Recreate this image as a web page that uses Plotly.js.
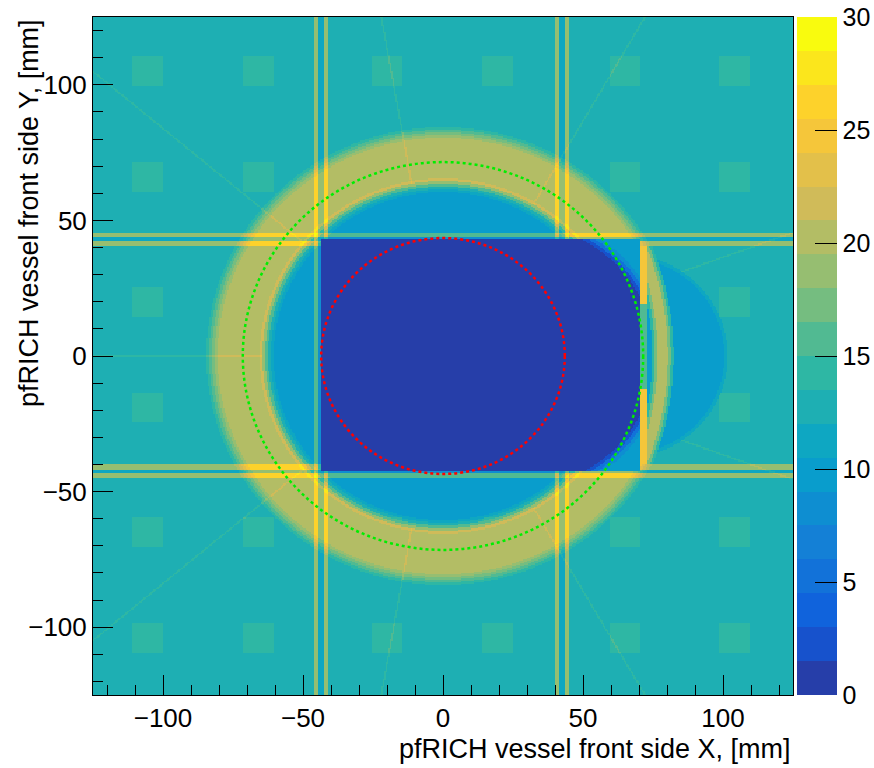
<!DOCTYPE html>
<html><head><meta charset="utf-8">
<script src="https://cdn.plot.ly/plotly-3.0.1.min.js"></script>
<style>html,body{margin:0;padding:0;background:#fff}#chart{width:874px;height:768px}</style>
</head><body><div id="chart"></div>
<script>
// ---------- chart values ----------
const X_TITLE = 'pfRICH vessel front side X, [mm]';
const Y_TITLE = 'pfRICH vessel front side Y, [mm]';
const AXIS_RANGE = [-125, 125];
const BIN_WIDTH = 0.5;
const Z_RANGE = [0, 30];
const N_LEVELS = 20;
const COLORBAR_TICKS = [0, 5, 10, 15, 20, 25, 30];

const BACKGROUND_LEVEL = 12.75;
// radial profile of the ring around (0,0): band boundaries (mm) and the level in each band
const RING_EDGES  = [60.5, 61.5, 62.5, 63.5, 64.5, 65.5, 80.5, 81.5, 82.5, 83.5, 84.5];
const RING_LEVELS = [9.75, 11.25, 12.75, 15.75, 18.75, 21.75, 20.25, 18.75, 17.25, 15.75, 14.25, 12.75];

// support bars (mm intervals) and the gaps between them
const V_BARS = [[-46.2, -44.4], [-42.7, -40.9], [39.8, 41.6], [43.4, 45.2]];
const V_GAPS = [[-44.4, -42.7], [41.6, 43.4]];
const H_BARS = [[44.1, 45.7], [40.4, 42.3], [-41.8, -40.0], [-44.9, -43.2]];
const H_GAPS = [[42.3, 44.1], [-43.2, -41.8]];
const BAR_STEP = 6.0;
const GAP_STEP = -1.5;

// sensor pads (lighter squares)
const PAD_X = [-105.5, -66, -20, 19.5, 65, 104];
const PAD_Y = [105, 66, 20, -19, -65, -104];
const PAD_HALF = 5.5;
const PAD_STEP = 1.5;

// faint radial seams
const RAY_ANGLES = [20, 60, 100, 140, 180, 220, 260, 300, 340];
const RAY_START_R = 64.5;
const RAY_STEP = 1.5;

// central window
const RECT_X = [-43.3, 70.6];
const RECT_Y = [-42.5, 43.2];
const DARK_CENTER_X = 27;
const DARK_RADIUS = 48.5;
const DARK_EDGE_D = [0, 1.2, 2.4, 3.6];
const DARK_EDGE_LEVELS = [0.75, 2.25, 5.25, 8.25, 9.75];

// region right of the window
const RIGHT_Y = [-40.0, 40.4];
const RIGHT_BAR_X = 73.1;
const RIGHT_BAR_Y_BREAKS = [-12, 19];
const RIGHT_BAR_LEVELS = [24.75, 15.75, 24.75];
const RIGHT_DISK = {cx: 64, r: 36.5, level: 9.75, edge: 1.2, edgeLevel: 11.25};
const RIGHT_ARC = {cx: -29, r: 107.5};
const RIGHT_ARC_D = [1.8, 2.8, 3.8];
const RIGHT_ARC_LEVELS = [20.25, 17.25, 14.25];

// dotted reference circles
const CIRCLE_R = [71.5, 43.5];
const CIRCLE_COLORS = ['#00ee00', '#ff0000'];

// ROOT kBird palette stops
const BIRD_STOPS = [0.0, 0.125, 0.25, 0.375, 0.5, 0.625, 0.75, 0.875, 1.0];
const BIRD_R = [0.2082, 0.0592, 0.0780, 0.0232, 0.1802, 0.5301, 0.8186, 0.9956, 0.9764];
const BIRD_G = [0.1664, 0.3599, 0.5041, 0.6419, 0.7178, 0.7492, 0.7328, 0.7862, 0.9832];
const BIRD_B = [0.5293, 0.8684, 0.8385, 0.7914, 0.6425, 0.4662, 0.3499, 0.1968, 0.0539];

// ---------- build ----------
function bird(f) {
  let k = 0;
  while (k < BIRD_STOPS.length - 2 && f > BIRD_STOPS[k + 1]) k++;
  const t = (f - BIRD_STOPS[k]) / (BIRD_STOPS[k + 1] - BIRD_STOPS[k]);
  const c = a => Math.round(255 * (a[k] + t * (a[k + 1] - a[k])));
  return `rgb(${c(BIRD_R)},${c(BIRD_G)},${c(BIRD_B)})`;
}
const colorscale = [];
for (let i = 0; i < N_LEVELS; i++) {
  const col = bird(Math.min(1, (i + 0.99) / N_LEVELS));
  colorscale.push([i / N_LEVELS, col]);
  colorscale.push([(i + 1) / N_LEVELS, col]);
}
const inAny = (v, list) => list.some(p => v >= p[0] && v < p[1]);
const stepLookup = (v, edges, levels) => { let i = 0; while (i < edges.length && v >= edges[i]) i++; return levels[i]; };
const onPad = (x, y) => PAD_X.some(px => Math.abs(x - px) <= PAD_HALF) && PAD_Y.some(py => Math.abs(y - py) <= PAD_HALF);
const rayDirs = RAY_ANGLES.map(a => [Math.cos(a * Math.PI / 180), Math.sin(a * Math.PI / 180)]);
const onRay = (x, y) => rayDirs.some(d => (x * d[0] + y * d[1]) > 0 && Math.abs(-x * d[1] + y * d[0]) < 0.3);

const n = Math.round((AXIS_RANGE[1] - AXIS_RANGE[0]) / BIN_WIDTH);
const centers = [];
for (let i = 0; i < n; i++) centers.push(AXIS_RANGE[0] + BIN_WIDTH * (i + 0.5));

function level(x, y) {
  const r = Math.hypot(x, y);
  // central window
  if (x >= RECT_X[0] && x < RECT_X[1] && y >= RECT_Y[0] && y < RECT_Y[1]) {
    if (x < DARK_CENTER_X) return DARK_EDGE_LEVELS[0];
    const d = Math.hypot(x - DARK_CENTER_X, y) - DARK_RADIUS;
    return stepLookup(d, DARK_EDGE_D, DARK_EDGE_LEVELS);
  }
  // right region
  if (x >= RECT_X[1] && y >= RIGHT_Y[0] && y < RIGHT_Y[1]) {
    if (x < RIGHT_BAR_X) return stepLookup(y, RIGHT_BAR_Y_BREAKS, RIGHT_BAR_LEVELS);
    let z = BACKGROUND_LEVEL;
    const dd = Math.hypot(x - RIGHT_DISK.cx, y) - RIGHT_DISK.r;
    if (dd < 0) z = RIGHT_DISK.level; else if (dd < RIGHT_DISK.edge) z = RIGHT_DISK.edgeLevel;
    const da = Math.abs(Math.hypot(x - RIGHT_ARC.cx, y) - RIGHT_ARC.r);
    for (let k = 0; k < RIGHT_ARC_D.length; k++) if (da < RIGHT_ARC_D[k]) { z = Math.max(z, RIGHT_ARC_LEVELS[k]); break; }
    if (z === BACKGROUND_LEVEL) {
      if (onPad(x, y)) z += PAD_STEP;
      if (onRay(x, y)) z += RAY_STEP;
    }
    return z;
  }
  let z = stepLookup(r, RING_EDGES, RING_LEVELS);
  const isBg = z === BACKGROUND_LEVEL;
  if (inAny(x, V_BARS)) z += BAR_STEP;
  if (inAny(y, H_BARS)) z += BAR_STEP;
  if (inAny(x, V_GAPS) || inAny(y, H_GAPS)) z += GAP_STEP;
  if (isBg && onPad(x, y)) z += PAD_STEP;
  if (r > RAY_START_R && onRay(x, y)) z += RAY_STEP;
  return Math.min(29.9, Math.max(0.1, z));
}
const zData = centers.map(y => centers.map(x => level(x, y)));

const FONT = 'Liberation Sans, Arial, Helvetica, sans-serif';
const axisCommon = {
  range: AXIS_RANGE, dtick: 50, tick0: 0, ticks: 'inside', ticklen: 20, tickwidth: 1, tickcolor: '#000',
  minor: {dtick: 10, ticks: 'inside', ticklen: 10, tickwidth: 1, tickcolor: '#000'},
  showline: true, mirror: true, linecolor: '#000', linewidth: 1, showgrid: false, zeroline: false,
  tickfont: {family: FONT, size: 26, color: '#000'}
};
const shapes = CIRCLE_R.map((R, i) => ({
  type: 'circle', xref: 'x', yref: 'y', x0: -R, x1: R, y0: -R, y1: R,
  line: {color: CIRCLE_COLORS[i], width: 2.5, dash: '3px,3px'}
}));

Plotly.newPlot('chart', [{
  type: 'heatmap', x: centers, y: centers, z: zData, zmin: Z_RANGE[0], zmax: Z_RANGE[1],
  colorscale: colorscale, zsmooth: false, hoverinfo: 'skip',
  colorbar: {
    x: 1.0057, xanchor: 'left', xpad: 0, ypad: 0, y: 0.5, yanchor: 'middle', len: 1, lenmode: 'fraction',
    thickness: 40, outlinewidth: 0, tickvals: COLORBAR_TICKS, ticks: 'inside', ticklen: 22, tickcolor: '#000',
    tickfont: {family: FONT, size: 25, color: '#000'}
  }
}], {
  width: 874, height: 768, margin: {l: 93, r: 81, t: 17, b: 73, autoexpand: false},
  paper_bgcolor: '#fff', plot_bgcolor: '#fff', showlegend: false,
  xaxis: Object.assign({}, axisCommon),
  yaxis: Object.assign({}, axisCommon),
  shapes: shapes,
  annotations: [
    {text: X_TITLE, xref: 'paper', yref: 'paper', x: 1, y: 0, xanchor: 'right', yanchor: 'middle', yshift: -54,
     showarrow: false, font: {family: FONT, size: 27, color: '#000'}},
    {text: Y_TITLE, xref: 'paper', yref: 'paper', x: -0.0914, y: 1, xanchor: 'center', yanchor: 'top', textangle: -90,
     showarrow: false, font: {family: FONT, size: 27, color: '#000'}}
  ]
}, {staticPlot: true});
</script></body></html>
